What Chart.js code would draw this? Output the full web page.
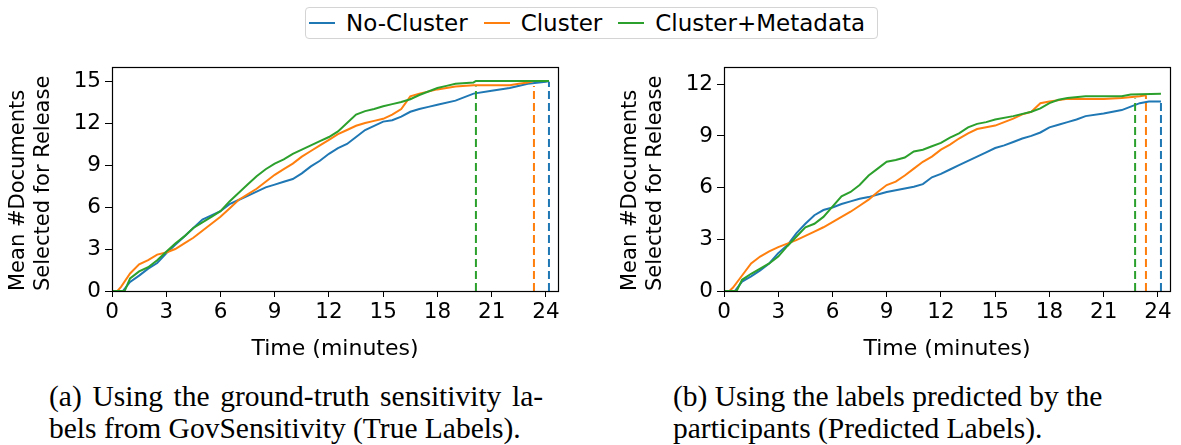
<!DOCTYPE html>
<html>
<head>
<meta charset="utf-8">
<script src="https://cdn.jsdelivr.net/npm/chart.js@4/dist/chart.umd.min.js"></script>
<style>
  html, body { margin: 0; padding: 0; background: #fff; }
  body { position: relative; width: 1181px; height: 445px; overflow: hidden; font-family: 'DejaVu Sans', sans-serif; }
  canvas { position: absolute; }
  #legend {
    position: absolute; left: 305px; top: 7px; width: 571px; height: 30px;
    border: 1px solid #d4d4d4; border-radius: 4px;
    display: flex; align-items: center; font-size: 23px; color: #000; white-space: nowrap;
  }
  #legend .sw { display: inline-block; width: 26px; height: 2px; margin: 0 11px 0 3px; }
  #legend .item { display: flex; align-items: center; margin-right: 13px; }
  .caption {
    position: absolute; top: 380px; font-family: 'Liberation Serif', serif;
    font-size: 29.5px; line-height: 32px; color: #000; white-space: nowrap;
  }
</style>
</head>
<body>
<div id="legend"></div>
<canvas id="trueChart" width="590" height="320" style="left:0px;top:50px"></canvas>
<canvas id="predChart" width="569" height="320" style="left:612px;top:50px"></canvas>
<div class="caption" style="left:49px"><div style="word-spacing:3.3px">(a) Using the ground-truth sensitivity la-</div><div>bels from GovSensitivity (True Labels).</div></div>
<div class="caption" style="left:673px"><div>(b) Using the labels predicted by the</div><div>participants (Predicted Labels).</div></div>
<script>
const seriesNames = ['No-Cluster', 'Cluster', 'Cluster+Metadata'];
const seriesColors = ['#1f77b4', '#ff7f0e', '#2ca02c'];

// (a) true labels: time in minutes, mean documents selected
const trueNoClusterT = [0, 0.6, 1, 1.5, 2, 2.5, 3, 3.5, 4, 4.5, 5, 5.5, 6, 6.5, 7, 7.5, 8, 8.5, 9, 9.5, 10, 10.5, 11, 11.5, 12, 12.5, 13, 13.5, 14, 14.5, 15, 15.5, 16, 16.5, 17, 17.5, 18, 19, 20, 21, 22, 23, 24, 24.17];
const trueNoClusterY = [0, 0, 0.65, 1.1, 1.6, 2.0, 2.7, 3.3, 3.9, 4.5, 5.1, 5.4, 5.7, 6.2, 6.5, 6.8, 7.1, 7.4, 7.6, 7.8, 8.0, 8.4, 8.9, 9.3, 9.8, 10.2, 10.5, 11.0, 11.5, 11.8, 12.1, 12.2, 12.45, 12.8, 13.0, 13.15, 13.3, 13.6, 14.1, 14.3, 14.5, 14.8, 14.95, 15.0];
const trueClusterT = [0, 0.3, 0.5, 1, 1.5, 2, 2.5, 3, 3.5, 4, 4.5, 5, 5.5, 6, 6.5, 7, 7.5, 8, 8.5, 9, 9.5, 10, 10.5, 11, 11.5, 12, 12.5, 13, 13.5, 14, 14.5, 15, 15.5, 16, 16.5, 17, 18, 19, 20, 22, 22.5, 23, 23.34];
const trueClusterY = [0, 0, 0.3, 1.25, 1.9, 2.2, 2.6, 2.75, 3.0, 3.4, 3.8, 4.3, 4.8, 5.3, 5.9, 6.5, 6.9, 7.3, 7.8, 8.3, 8.7, 9.1, 9.6, 10.0, 10.4, 10.8, 11.2, 11.5, 11.8, 12.0, 12.15, 12.3, 12.6, 13.0, 13.9, 14.1, 14.4, 14.6, 14.7, 14.7, 14.8, 14.9, 15.0];
const trueMetaT = [0, 0.7, 1, 1.5, 2, 2.5, 3, 3.5, 4, 4.5, 5, 5.5, 6, 6.5, 7, 7.5, 8, 8.5, 9, 9.5, 10, 10.5, 11, 11.5, 12, 12.5, 13, 13.5, 14, 14.5, 15, 15.5, 16, 16.5, 17, 17.5, 18, 18.5, 19, 20, 20.13, 24.17];
const trueMetaY = [0, 0, 0.9, 1.4, 1.7, 2.2, 2.8, 3.4, 3.9, 4.5, 4.9, 5.3, 5.7, 6.4, 7.0, 7.6, 8.2, 8.7, 9.1, 9.4, 9.8, 10.1, 10.4, 10.7, 11.0, 11.4, 12.0, 12.6, 12.85, 13.0, 13.2, 13.35, 13.5, 13.7, 14.0, 14.25, 14.5, 14.65, 14.8, 14.9, 15.0, 15.0];
const trueEndTimes = [24.17, 23.34, 20.13];
const trueEndLevels = [14.95, 14.65, 14.6];

// (b) predicted labels
const predNoClusterT = [0, 0.6, 1, 1.5, 2, 2.5, 3, 3.5, 4, 4.5, 5, 5.5, 6, 6.5, 7, 7.5, 8, 8.5, 9, 9.5, 10, 10.5, 11, 11.5, 12, 12.5, 13, 13.5, 14, 14.5, 15, 15.5, 16, 16.5, 17, 17.5, 18, 18.5, 19, 19.5, 20, 21, 22, 22.5, 23, 23.5, 24.17];
const predNoClusterY = [0, 0, 0.55, 0.85, 1.2, 1.6, 2.2, 2.65, 3.35, 3.9, 4.4, 4.7, 4.85, 5.05, 5.2, 5.35, 5.45, 5.6, 5.75, 5.85, 5.95, 6.05, 6.2, 6.6, 6.8, 7.05, 7.3, 7.55, 7.8, 8.05, 8.3, 8.45, 8.65, 8.85, 9.0, 9.2, 9.5, 9.65, 9.8, 9.95, 10.15, 10.3, 10.5, 10.7, 10.9, 11.0, 11.0];
const predClusterT = [0, 0.3, 0.5, 1, 1.5, 2, 2.5, 3, 3.5, 4, 4.5, 5, 5.5, 6, 6.5, 7, 7.5, 8, 8.5, 9, 9.5, 10, 10.5, 11, 11.5, 12, 12.5, 13, 13.5, 14, 14.5, 15, 15.5, 16, 16.5, 17, 17.5, 18, 19, 21, 22, 23, 23.34];
const predClusterY = [0, 0, 0.2, 0.9, 1.6, 2.0, 2.3, 2.55, 2.75, 2.95, 3.2, 3.45, 3.7, 4.0, 4.3, 4.6, 4.95, 5.3, 5.75, 6.15, 6.35, 6.7, 7.1, 7.5, 7.8, 8.2, 8.5, 8.85, 9.15, 9.4, 9.5, 9.6, 9.8, 10.0, 10.25, 10.4, 10.9, 11.0, 11.15, 11.15, 11.2, 11.3, 11.36];
const predMetaT = [0, 0.7, 1, 1.5, 2, 2.5, 3, 3.5, 4, 4.5, 5, 5.5, 6, 6.5, 7, 7.5, 8, 8.5, 9, 9.5, 10, 10.5, 11, 11.5, 12, 12.5, 13, 13.5, 14, 14.5, 15, 16, 17, 17.5, 18, 18.5, 19, 20, 22, 22.5, 24.17];
const predMetaY = [0, 0, 0.65, 1.0, 1.3, 1.6, 2.0, 2.6, 3.15, 3.7, 3.9, 4.3, 4.9, 5.5, 5.75, 6.15, 6.7, 7.1, 7.5, 7.6, 7.75, 8.1, 8.2, 8.4, 8.6, 8.9, 9.15, 9.5, 9.7, 9.8, 9.95, 10.15, 10.4, 10.6, 10.9, 11.1, 11.2, 11.3, 11.3, 11.4, 11.45];
const predEndTimes = [24.17, 23.34, 22.74];
const predEndLevels = [11.07, 11.36, 11.17];

const xTicks = [0, 3, 6, 9, 12, 15, 18, 21, 24];

Chart.defaults.font.family = "'DejaVu Sans', sans-serif";
Chart.defaults.color = '#000';

// legend shared by both panels
const legendEl = document.getElementById('legend');
seriesNames.forEach((name, i) => {
    const item = document.createElement('span');
    item.className = 'item';
    item.innerHTML = '<span class="sw" style="background:' + seriesColors[i] + '"></span>' + name;
    legendEl.appendChild(item);
});

function zip(ts, ys) {
    return ts.map((t, i) => ({x: t, y: ys[i]}));
}

// box around the axes
const frame = {
    id: 'frame',
    afterDatasetsDraw(chart) {
        const {ctx, chartArea: a} = chart;
        ctx.save();
        ctx.strokeStyle = '#000';
        ctx.lineWidth = 1.2;
        ctx.strokeRect(Math.round(a.left) + 0.5, Math.round(a.top) + 0.5,
            Math.round(a.right - a.left), Math.round(a.bottom - a.top));
        ctx.restore();
    }
};

function makeChart(id, curves, endTimes, endLevels, yMax, padRight) {
    const datasets = [];
    curves.forEach((c, i) => {
        datasets.push({
            label: seriesNames[i],
            data: zip(c[0], c[1]),
            borderColor: seriesColors[i],
            borderWidth: 2,
            pointRadius: 0,
            tension: 0,
            fill: false,
            order: 3 - i
        });
        datasets.push({
            label: seriesNames[i] + ' end',
            data: [{x: endTimes[i], y: 0}, {x: endTimes[i], y: endLevels[i]}],
            borderColor: seriesColors[i],
            borderWidth: 2,
            borderDash: [8, 4],
            pointRadius: 0,
            fill: false,
            order: 3 - i
        });
    });

    return new Chart(document.getElementById(id), {
        type: 'line',
        data: {datasets},
        plugins: [frame],
        options: {
            responsive: false,
            animation: false,
            layout: {padding: {top: 17, right: padRight, left: 0, bottom: 0}},
            plugins: {legend: {display: false}, tooltip: {enabled: false}},
            scales: {
                x: {
                    type: 'linear',
                    min: 0,
                    max: 24.67,
                    afterBuildTicks: s => { s.ticks = xTicks.map(v => ({value: v})); },
                    afterFit: s => { s.height = 79; },
                    grid: {drawOnChartArea: false, tickLength: 6, tickColor: '#000', tickWidth: 1},
                    border: {display: false},
                    ticks: {font: {size: 21.5}, padding: 3, maxRotation: 0},
                    title: {display: true, text: 'Time (minutes)', font: {size: 22}, padding: {top: 0, bottom: 8}}
                },
                y: {
                    min: 0,
                    max: yMax,
                    ticks: {stepSize: 3, includeBounds: false, font: {size: 21.5}, padding: 4},
                    afterFit: s => { s.width = 112; },
                    grid: {drawOnChartArea: false, tickLength: 7, tickColor: '#000', tickWidth: 1},
                    border: {display: false},
                    title: {
                        display: true,
                        text: ['Mean #Documents', 'Selected for Release'],
                        align: 'start',
                        font: {size: 21},
                        padding: {top: 6, bottom: 0}
                    }
                }
            }
        }
    });
}

makeChart('trueChart',
    [[trueNoClusterT, trueNoClusterY], [trueClusterT, trueClusterY], [trueMetaT, trueMetaY]],
    trueEndTimes, trueEndLevels, 16, 32);
makeChart('predChart',
    [[predNoClusterT, predNoClusterY], [predClusterT, predClusterY], [predMetaT, predMetaY]],
    predEndTimes, predEndLevels, 13, 11);
</script>
</body>
</html>
